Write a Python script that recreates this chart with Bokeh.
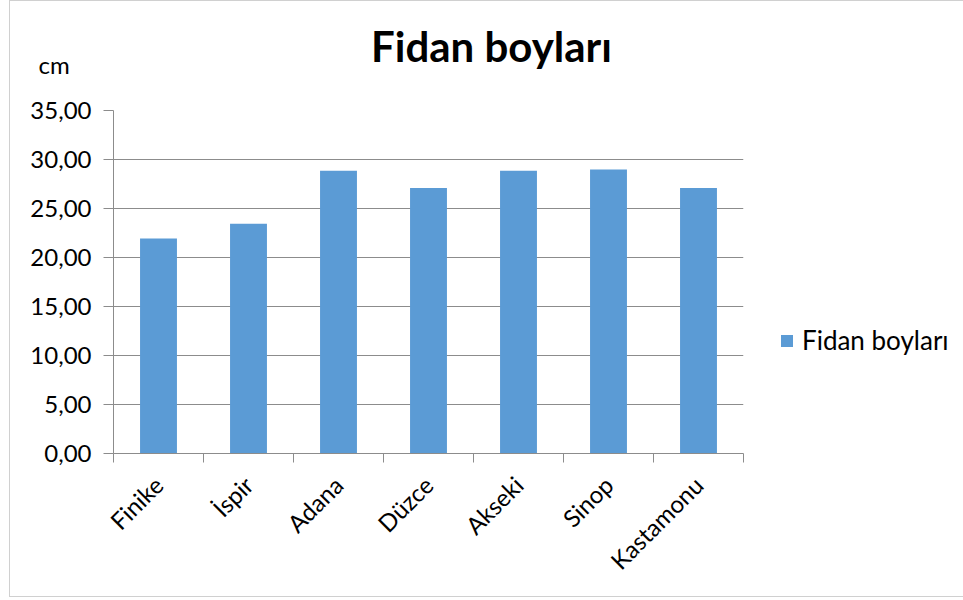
import numpy as np
from bokeh.plotting import figure
from bokeh.models import (FixedTicker, Label, Legend, LegendItem, Range1d)
from bokeh.embed import file_html
from bokeh.resources import INLINE

categories = ["Finike", "İspir", "Adana", "Düzce", "Akseki", "Sinop", "Kastamonu"]
heights = [21.95, 23.45, 28.85, 27.10, 28.85, 28.98, 27.10]
y_ticks = [0, 5, 10, 15, 20, 25, 30, 35]
y_tick_labels = ["0,00", "5,00", "10,00", "15,00", "20,00", "25,00", "30,00", "35,00"]
series_name = "Fidan boyları"
unit_label = "cm"

FONT = "Lato"
GRID = "#8c8c8c"
BAR = "#5b9bd5"

xs = np.arange(len(categories)) + 0.5

p = figure(width=952, height=596, output_backend="svg", toolbar_location=None,
           x_range=Range1d(0, len(categories)), y_range=Range1d(0, 35),
           min_border_left=103, min_border_top=109,
           min_border_bottom=143, frame_width=630, frame_height=343)
p.outline_line_color = None
p.background_fill_color = "white"
p.border_fill_color = "white"
p.styles = {"margin-left": "9px", "border-left": "1px solid #d0d0d0",
            "border-bottom": "1px solid #d0d0d0", "border-top": "1px solid #d0d0d0"}

r = p.vbar(x=xs, top=heights, width=0.41, color=BAR, line_color=None)

# x axis
p.xaxis.ticker = FixedTicker(ticks=list(xs), minor_ticks=list(range(len(categories) + 1)))
p.xaxis.major_label_overrides = {float(x): c for x, c in zip(xs, categories)}
p.xaxis.major_tick_line_color = None
p.xaxis.minor_tick_line_color = GRID
p.xaxis.minor_tick_out = 9
p.xaxis.minor_tick_in = 0
p.xaxis.axis_line_color = GRID
p.xaxis.major_label_orientation = np.pi / 4
p.xaxis.major_label_text_font = FONT
p.xaxis.major_label_text_font_size = "24px"
p.xaxis.major_label_text_color = "#000000"
p.xaxis.major_label_standoff = 18
p.xgrid.grid_line_color = None

# y axis
p.yaxis.ticker = FixedTicker(ticks=y_ticks, minor_ticks=[])
p.yaxis.major_label_overrides = {t: l for t, l in zip(y_ticks, y_tick_labels)}
p.yaxis.axis_line_color = GRID
p.yaxis.major_tick_line_color = GRID
p.yaxis.major_tick_out = 10
p.yaxis.major_tick_in = 0
p.yaxis.minor_tick_line_color = None
p.yaxis.major_label_text_font = FONT
p.yaxis.major_label_text_font_size = "24px"
p.yaxis.major_label_text_color = "#000000"
p.yaxis.major_label_standoff = 12
p.ygrid.grid_line_color = GRID
p.ygrid.grid_line_width = 1

# chart title and unit label (canvas units, placed in the top panel)
p.add_layout(Label(x=480, y=43, x_units="canvas", y_units="canvas", text=series_name,
                   text_font=FONT, text_font_style="bold", text_font_size="42px",
                   text_align="center", text_baseline="alphabetic", text_color="#000000"), "above")
p.add_layout(Label(x=27, y=62, x_units="canvas", y_units="canvas", text=unit_label,
                   text_font=FONT, text_font_size="24px", text_baseline="alphabetic",
                   text_color="#000000"), "above")

legend = Legend(items=[LegendItem(label=series_name, renderers=[r])], location=(36, 97),
                padding=0, margin=0, glyph_width=15, glyph_height=15, label_standoff=8,
                border_line_color=None, background_fill_alpha=0,
                label_text_font=FONT, label_text_font_size="26px", label_text_color="#000000")
p.add_layout(legend, "right")

open("out.html", "w").write(file_html(p, INLINE))
